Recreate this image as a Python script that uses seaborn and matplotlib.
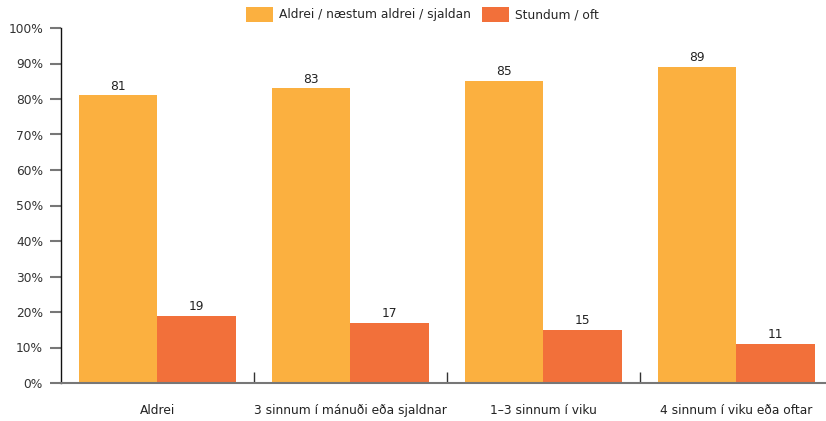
import matplotlib
matplotlib.use("Agg")
import matplotlib.pyplot as plt
import seaborn as sns
import pandas as pd

categories = ["Aldrei", "3 sinnum í mánuði eða sjaldnar", "1–3 sinnum í viku", "4 sinnum í viku eða oftar"]
series_names = ["Aldrei / næstum aldrei / sjaldan", "Stundum / oft"]
never_values = [81, 83, 85, 89]
often_values = [19, 17, 15, 11]
y_ticks = [0, 10, 20, 30, 40, 50, 60, 70, 80, 90, 100]
colors = ["#FBB040", "#F2703A"]

rows = []
for c, a, b in zip(categories, never_values, often_values):
    rows.append({"cat": c, "series": series_names[0], "value": a})
    rows.append({"cat": c, "series": series_names[1], "value": b})
df = pd.DataFrame(rows)

sns.set_style("white")
plt.rcParams["font.family"] = ["DejaVu Sans"]

fig = plt.figure(figsize=(8.26, 4.21), dpi=100)
ax = fig.add_axes([61/826, 38/421, 765/826, 355/421])

sns.barplot(data=df, x="cat", y="value", hue="series", order=categories,
            hue_order=series_names, palette=colors, width=0.81, saturation=1,
            ax=ax, legend=True, errorbar=None, linewidth=0, edgecolor="none")

for cont in ax.containers:
    ax.bar_label(cont, fmt="%d", padding=2, fontsize=8.8, color="#222222")

ax.set_xlim(-0.5, 3.464)
ax.set_ylim(0, 100)
ax.set_yticks(y_ticks)
ax.set_yticklabels([f"{t}%" for t in y_ticks], fontsize=8.8, color="#333333")
ax.tick_params(axis="y", left=True, length=8, width=1.5, color="#777777", pad=5)

ax.set_xticks([0.5, 1.5, 2.5])
ax.set_xticklabels([])
ax.tick_params(axis="x", which="major", bottom=True, direction="in", length=8, width=1, color="#333333")
ax.set_xticks([0, 1, 2, 3], minor=True)
ax.set_xticklabels(categories, minor=True, fontsize=8.8, color="#222222")
ax.tick_params(axis="x", which="minor", bottom=True, length=0, pad=15)

ax.set_xlabel("")
ax.set_ylabel("")
for s in ["top", "right"]:
    ax.spines[s].set_visible(False)
ax.spines["left"].set_color("#111111")
ax.spines["left"].set_linewidth(1)
ax.spines["bottom"].set_color("#777777")
ax.spines["bottom"].set_linewidth(1.5)

leg = ax.legend(loc="upper center", bbox_to_anchor=(0.5 - 21/765, 1 + 32/355), ncol=2,
                frameon=False, fontsize=8.8, handlelength=2.2, handleheight=1.5,
                columnspacing=0.9, handletextpad=0.5)

fig.savefig("out.png", dpi=100)
